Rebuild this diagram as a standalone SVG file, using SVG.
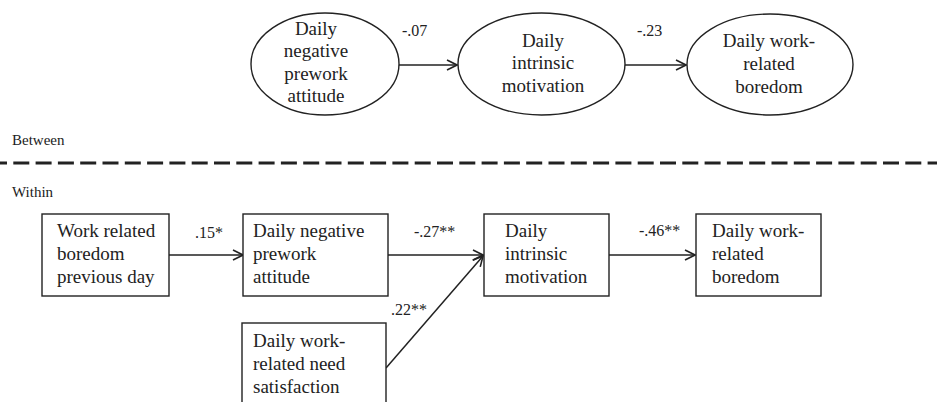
<svg xmlns="http://www.w3.org/2000/svg" width="937" height="402" viewBox="0 0 937 402">
<defs>
<style>
text{font-family:'Liberation Serif','Times New Roman',Times,serif;fill:#222}
.t{font-size:19px}
.c{text-anchor:middle}
.l{font-size:16px}
.s{font-size:15px}
.n{fill:#fff;stroke:#222;stroke-width:1.4}
.e{fill:none;stroke:#222;stroke-width:1.5}
</style>
<marker id="ah" viewBox="0 0 12 12" refX="11" refY="6" markerWidth="12" markerHeight="12" markerUnits="userSpaceOnUse" orient="auto">
<path d="M1,1 L11,6 L1,11" fill="none" stroke="#222" stroke-width="1.6"/>
</marker>
</defs>
<rect width="937" height="402" fill="#fff"/>

<g id="connectors">
<line class="e" x1="398" y1="65" x2="457" y2="65" marker-end="url(#ah)"/>
<line class="e" x1="625" y1="65" x2="686" y2="65" marker-end="url(#ah)"/>
<line class="e" x1="169" y1="255" x2="243" y2="255" marker-end="url(#ah)"/>
<line class="e" x1="388" y1="255" x2="483" y2="255" marker-end="url(#ah)"/>
<line class="e" x1="386" y1="368" x2="483" y2="256" marker-end="url(#ah)"/>
<line class="e" x1="609" y1="255" x2="695" y2="255" marker-end="url(#ah)"/>
</g>

<g id="edge-labels" font-family="Liberation Serif, serif">
<text class="l" x="402" y="36">-.07</text>
<text class="l" x="637" y="36">-.23</text>
<text class="l" x="195" y="238">.15*</text>
<text class="l" x="414" y="237">-.27**</text>
<text class="l" x="391" y="315">.22**</text>
<text class="l" x="639" y="236">-.46**</text>
</g>

<g id="levels">
<text class="s" x="12" y="145">Between</text>
<line x1="0" y1="163" x2="937" y2="163" stroke="#222" stroke-width="3" stroke-dasharray="16 6.3" stroke-dashoffset="9"/>
<text class="s" x="12" y="197">Within</text>
</g>

<g id="b-attitude">
<ellipse class="n" cx="325" cy="64" rx="74" ry="51"/>
<text class="t c" x="316" y="35">Daily</text>
<text class="t c" x="316" y="57">negative</text>
<text class="t c" x="316" y="80">prework</text>
<text class="t c" x="316" y="102">attitude</text>
</g>

<g id="b-motivation">
<ellipse class="n" cx="541.5" cy="64" rx="83.5" ry="51"/>
<text class="t c" x="543" y="47">Daily</text>
<text class="t c" x="543" y="69">intrinsic</text>
<text class="t c" x="543" y="92">motivation</text>
</g>

<g id="b-boredom">
<ellipse class="n" cx="770" cy="64.5" rx="83" ry="50.5"/>
<text class="t c" x="769" y="47">Daily work-</text>
<text class="t c" x="769" y="70">related</text>
<text class="t c" x="769" y="93">boredom</text>
</g>

<g id="w-prevboredom">
<rect class="n" x="42" y="214" width="127" height="82"/>
<text class="t" x="57" y="237">Work related</text>
<text class="t" x="57" y="260">boredom</text>
<text class="t" x="57" y="283">previous day</text>
</g>

<g id="w-attitude">
<rect class="n" x="243" y="214" width="145" height="82"/>
<text class="t" x="253" y="237">Daily negative</text>
<text class="t" x="253" y="260">prework</text>
<text class="t" x="253" y="283">attitude</text>
</g>

<g id="w-motivation">
<rect class="n" x="484" y="214" width="125" height="82"/>
<text class="t" x="505" y="237">Daily</text>
<text class="t" x="505" y="260">intrinsic</text>
<text class="t" x="505" y="283">motivation</text>
</g>

<g id="w-boredom">
<rect class="n" x="696" y="214" width="125" height="82"/>
<text class="t" x="712" y="237">Daily work-</text>
<text class="t" x="712" y="260">related</text>
<text class="t" x="712" y="283">boredom</text>
</g>

<g id="w-need">
<rect class="n" x="242" y="323" width="144" height="95"/>
<text class="t" x="253" y="347">Daily work-</text>
<text class="t" x="253" y="370">related need</text>
<text class="t" x="253" y="393">satisfaction</text>
</g>
</svg>
